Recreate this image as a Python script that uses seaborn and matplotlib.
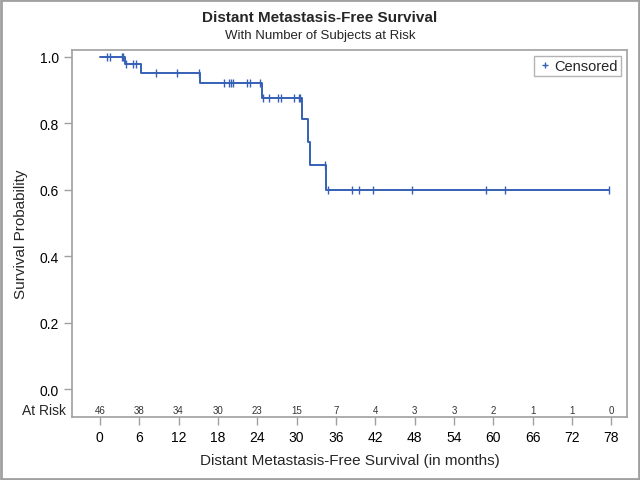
import numpy as np
import seaborn as sns
import matplotlib
matplotlib.use("Agg")
import matplotlib.pyplot as plt
from matplotlib.lines import Line2D
from matplotlib.patches import Rectangle

# Kaplan-Meier step values
step_times = [0, 3.8, 6.3, 15.3, 24.7, 30.9, 31.8, 32.0, 34.5, 77.6]
step_surv = [1.0, 0.978, 0.952, 0.922, 0.877, 0.812, 0.744, 0.676, 0.600, 0.600]

# censored observations (months)
censor_times = [1.1, 1.6, 3.3, 3.5, 4.0, 5.0, 5.5, 8.6, 11.8, 15.1,
                19.0, 19.7, 20.0, 20.3, 22.5, 22.9, 24.4,
                24.9, 25.8, 27.1, 27.6, 29.6, 30.3, 30.6,
                34.3, 34.8, 38.4, 39.6, 41.6, 47.6, 58.9, 61.8, 77.6]

# number at risk table
risk_times = [0, 6, 12, 18, 24, 30, 36, 42, 48, 54, 60, 66, 72, 78]
at_risk = [46, 38, 34, 30, 23, 15, 7, 4, 3, 3, 2, 1, 1, 0]

sns.set_theme(style="white")
plt.rcParams['font.family'] = ['Liberation Sans', 'DejaVu Sans']

line_col = '#3560B5'
gray = '#A0A0A0'

fig = plt.figure(figsize=(6.4, 4.81), dpi=100)
ax = fig.add_axes([72 / 640, 1 - 418 / 481, (627 - 72) / 640, (418 - 51) / 481])

# survival curve
sns.lineplot(x=step_times, y=step_surv, drawstyle='steps-post', color=line_col,
             linewidth=1.4, ax=ax, estimator=None, sort=False)

# censored marks sit on the curve
idx = np.searchsorted(step_times, censor_times, side='right') - 1
censor_surv = np.array(step_surv)[idx]
ax.scatter(censor_times, censor_surv, marker='|', s=40, color=line_col, linewidths=1.0, zorder=3)

ax.set_xlim(-4.25, 80.4)
ax.set_ylim(-0.084, 1.021)
ax.set_xticks(risk_times)
ax.set_yticks([0, 0.2, 0.4, 0.6, 0.8, 1.0])
ax.set_yticklabels(['0.0', '0.2', '0.4', '0.6', '0.8', '1.0'])
ax.tick_params(axis='both', which='both', length=6, width=1, color=gray,
               labelsize=10, colors='black', bottom=True, left=True)
ax.tick_params(axis='x', pad=3)
for tl in ax.get_xticklines() + ax.get_yticklines():
    tl.set_color(gray)
for s in ax.spines.values():
    s.set_color(gray)
    s.set_linewidth(1.2)

# at risk row inside the plot area
for t, n in zip(risk_times, at_risk):
    ax.text(t, -0.063, str(n), ha='center', va='center', fontsize=7, color='#333333')
ax.text(-5.2, -0.063, 'At Risk', ha='right', va='center', fontsize=10)

ax.set_xlabel('Distant Metastasis-Free Survival (in months)', fontsize=11, labelpad=7)
ax.set_ylabel('Survival Probability', fontsize=11, labelpad=8)

handle = Line2D([], [], marker='+', linestyle='none', color=line_col, markersize=5,
                markeredgewidth=1.0)
leg = ax.legend([handle], ['Censored'], loc='upper right', fontsize=10.5, frameon=True,
                fancybox=False, handletextpad=0.2, borderpad=0.2, handlelength=1.0,
                borderaxespad=0.4)
leg.get_frame().set_edgecolor(gray)
leg.get_frame().set_linewidth(1.0)

fig.text(0.5, 1 - 18 / 481, 'Distant Metastasis-Free Survival', ha='center', va='center',
         fontsize=11, fontweight='bold')
fig.text(0.5, 1 - 36 / 481, 'With Number of Subjects at Risk', ha='center', va='center',
         fontsize=9.5)

# outer frame
fig.patches.append(Rectangle((0.002, 0.002), 0.996, 0.996, transform=fig.transFigure,
                             fill=False, edgecolor=gray, linewidth=2))

fig.savefig('out.png', dpi=100)
